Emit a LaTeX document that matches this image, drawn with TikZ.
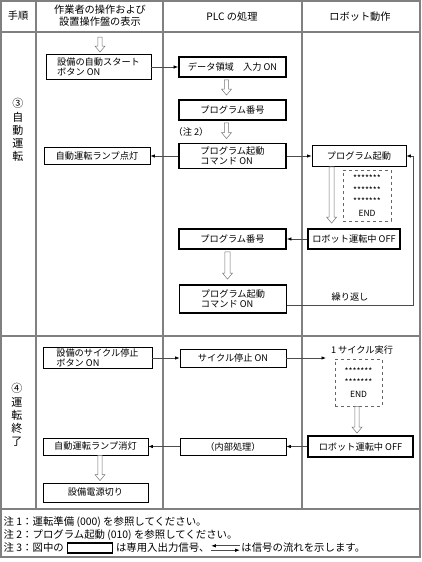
\documentclass[tikz,border=0pt]{standalone}
\usepackage{fontspec}
\setmainfont{Noto Sans CJK JP}
\usetikzlibrary{arrows.meta,calc,positioning}
\newcommand\harrow[3][2.2pt]{%
  \path[harrow] let \p1=#2, \p2=#3 in
    (\x1-#1,\y1) -- (\x1-#1,\y2+6pt) -- (\x1-5pt,\y2+6pt) -- (\x1,\y2)
    -- (\x1+5pt,\y2+6pt) -- (\x1+#1,\y2+6pt) -- (\x1+#1,\y1) -- cycle;}
\tikzset{
  grid/.style={draw=black!50, line width=1.5pt},
  tbox/.style={draw=black, line width=0.8pt, inner sep=1pt, align=left},
  kbox/.style={draw=black, line width=1.8pt, inner sep=1pt, align=left},
  dbox/.style={draw=black!60, dashed, line width=0.6pt, align=center, inner sep=1pt,
    font=\fontsize{8.5}{11.5}\selectfont},
  conn/.style={draw=black!70, line width=0.7pt, -{Latex[length=4.5pt,width=3.5pt,black]}},
  harrow/.style={draw=black!55, fill=white, line width=0.5pt},
  head/.style={font=\fontsize{10.2}{12}\selectfont, align=center},
  seclabel/.style={font=\fontsize{11}{13.2}\selectfont, align=center},
  note/.style={font=\fontsize{10.4}{12}\selectfont, inner sep=0.5pt},
  plain/.style={inner sep=1pt}
}
\begin{document}
\begin{tikzpicture}[x=1pt,y=-1pt,font=\fontsize{9.2}{10.4}\selectfont]
\useasboundingbox (0,0) rectangle (421,562);
% table
\draw[grid] (1,1) rectangle (420,557);
\draw[grid] (1,32) -- (420,32);
\draw[grid] (1,336) -- (420,336);
\draw[grid] (1,509) -- (420,509);
\draw[grid] (36,1) -- (36,509);
\draw[grid] (163,1) -- (163,509);
\draw[grid] (302,1) -- (302,509);
% header
\node[head] (h1) at (18,16) {手順};
\node[head] (h2) at (100,16) {作業者の操作および\\設置操作盤の表示};
\node[head] (h3) at (232,17) {PLC の処理};
\node[head] (h4) at (360,17) {ロボット動作};
% section labels
\node[seclabel] (s3) at (18,130) {③\\自\\動\\運\\転};
\node[seclabel] (s4) at (17,415) {④\\運\\転\\終\\了};
% ---- section 3
\node[tbox, minimum width=105, minimum height=25] (a1) at (98.5,67) {設備の自動スタート\\ボタン ON};
\node[kbox, minimum width=107, minimum height=20] (p1) at (232.5,67) {データ領域　入力 ON};
\node[kbox, minimum width=107, minimum height=20] (p2) at (232.5,110) {プログラム番号};
\node[plain] (n2) at (191,132) {（注 2）};
\node[kbox, minimum width=107, minimum height=25] (p3) at (232.5,156) {プログラム起動\\コマンド ON};
\node[tbox, minimum width=106, minimum height=17] (a2) at (97,156) {自動運転ランプ点灯};
\node[tbox, minimum width=94, minimum height=21] (r1) at (359,156) {プログラム起動};
\node[dbox, minimum width=48, minimum height=51] (d1) at (367,195.5) {*******\\*******\\*******\\END};
\node[kbox, minimum width=92, minimum height=20] (r2) at (354,239) {ロボット運転中 OFF};
\node[kbox, minimum width=107, minimum height=20] (p4) at (232.5,239) {プログラム番号};
\node[kbox, minimum width=107, minimum height=28] (p5) at (233,299) {プログラム起動\\コマンド ON};
\node[plain] (rep) at (350,297) {繰り返し};
\coordinate (s0) at (100,37);
\coordinate (loop) at (413,305);
\harrow{(s0)}{([yshift=2pt]a1.north)}
\harrow{([xshift=-6pt,yshift=-2pt]p1.south)}{([xshift=-6pt,yshift=4pt]p2.north)}
\harrow{([xshift=-6pt,yshift=-2pt]p2.south)}{([xshift=-6pt,yshift=4pt]p3.north)}
\harrow[2.6pt]{([xshift=20pt]r1.south west)}{([yshift=5pt]r2.north)}
\harrow[2.6pt]{([xshift=-5pt,yshift=-2pt]p4.south)}{([yshift=5pt]p5.north)}
\draw[conn] (a1.east) -- (p1.west);
\draw[conn] (p3.west) -- (a2.east);
\draw[conn] (p3.east) -- (r1.west);
\draw[conn] (r2.west) -- (p4.east);
\draw[conn] (p5.east |- loop) -- (loop) |- (r1.east);
% ---- section 4
\node[tbox, minimum width=109, minimum height=20] (b1) at (97.5,358) {設備のサイクル停止\\ボタン ON};
\node[tbox, minimum width=106, minimum height=18] (q1) at (233,358) {サイクル停止 ON};
\coordinate (cyc) at (326,358);
\node[plain] (c1) at (362,350) {1 サイクル実行};
\node[dbox, minimum width=47, minimum height=47] (d2) at (358.5,382.5) {*******\\*******\\END};
\node[kbox, minimum width=105, minimum height=21] (r3) at (360.5,446.5) {ロボット運転中 OFF};
\node[tbox, minimum width=106, minimum height=17] (q2) at (233,446.5) {（内部処理）};
\node[tbox, minimum width=105, minimum height=17] (b2) at (95.5,446.5) {自動運転ランプ消灯};
\node[tbox, minimum width=105, minimum height=19] (b3) at (95.5,492.5) {設備電源切り};
\draw[conn] (b1.east) -- (q1.west);
\draw[conn] (q1.east) -- (cyc);
\draw[conn] (r3.west) -- (q2.east);
\draw[conn] (q2.west) -- (b2.east);
\harrow{([xshift=-1.5pt]d2.south)}{([yshift=2pt]r3.north)}
\harrow{([xshift=4.5pt]b2.south)}{([yshift=2pt]b3.north)}
% ---- notes
\node[note, anchor=west] (m1) at (3,522) {注 1：運転準備 (000) を参照してください。};
\node[note, anchor=west] (m2) at (3,535) {注 2：プログラム起動 (010) を参照してください。};
\node[note, anchor=west] (m3) at (3,548) {注 3：図中の};
\node[draw=black, line width=1.8pt, minimum width=45, minimum height=10, inner sep=0pt, right=2pt of m3] (mbox) {};
\node[note, right=2pt of mbox] (m3b) {は専用入出力信号、};
\node[minimum width=28, minimum height=8, inner sep=0pt, right=1pt of m3b] (msym) {};
\node[note, right=1pt of msym] (m3c) {は信号の流れを示します。};
\draw[conn] ([yshift=-2pt]msym.north east) -- ([yshift=-2pt]msym.north west);
\draw[conn] ([yshift=2pt]msym.south west) -- ([yshift=2pt]msym.south east);
\end{tikzpicture}
\end{document}
